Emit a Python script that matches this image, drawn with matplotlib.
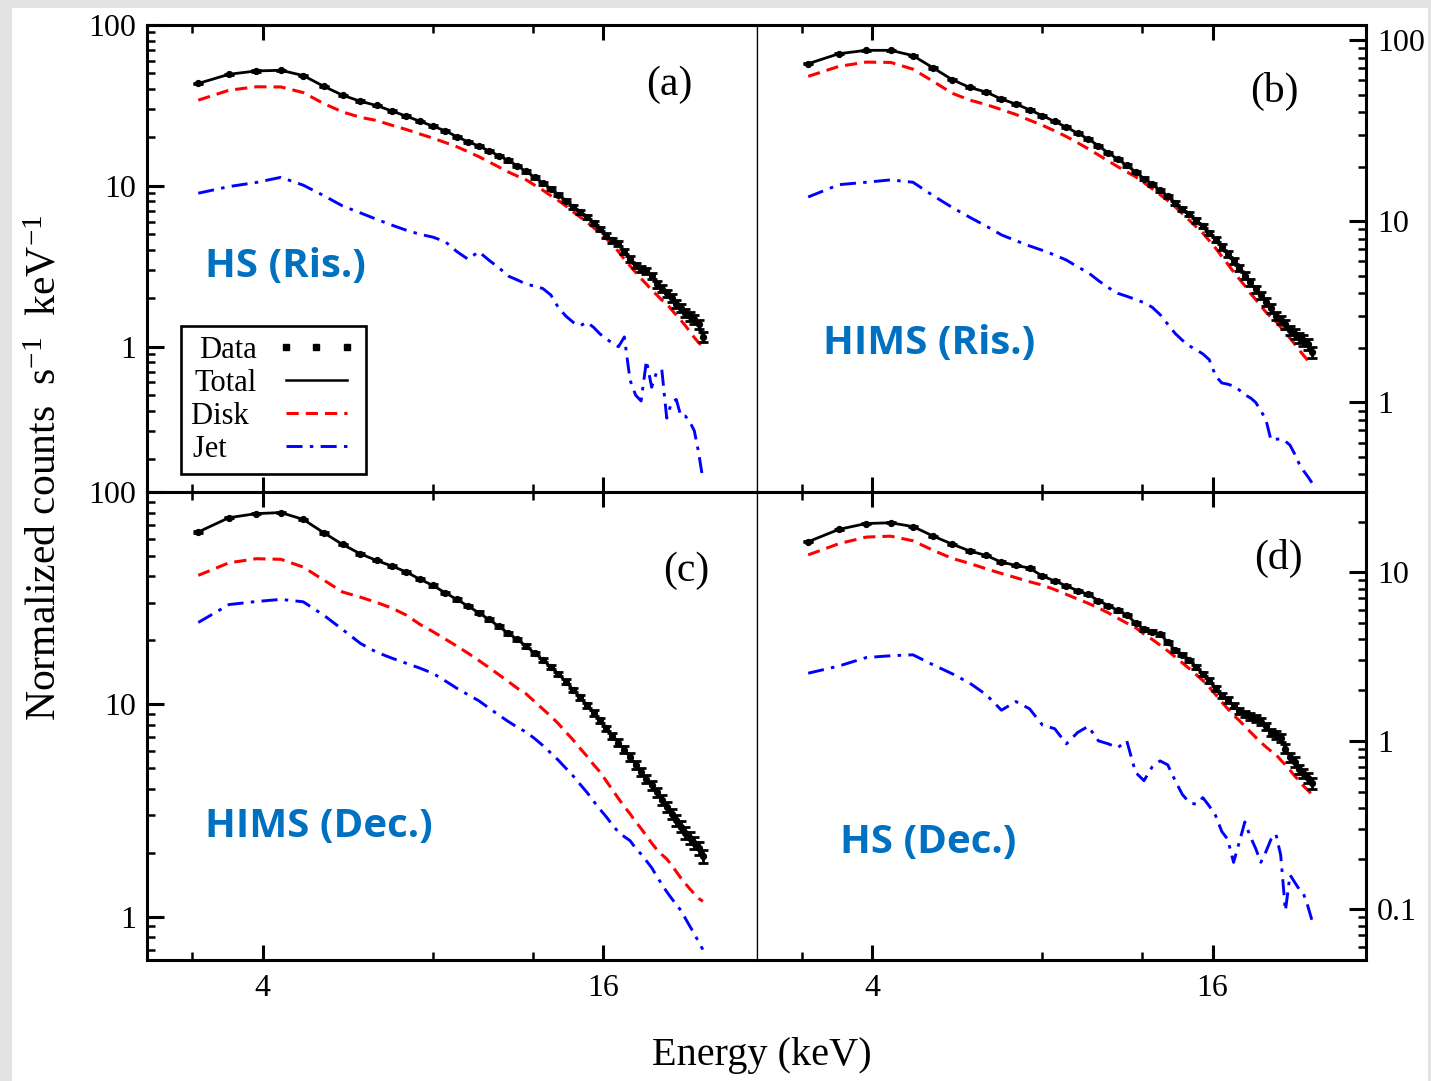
import matplotlib
matplotlib.use("Agg")
import matplotlib.pyplot as plt
from matplotlib.lines import Line2D
from matplotlib.patches import Rectangle
from matplotlib.ticker import FixedLocator, FuncFormatter, LogLocator, NullFormatter

plt.rcParams["font.family"] = ["Liberation Serif", "DejaVu Serif"]
plt.rcParams["mathtext.fontset"] = "custom"
plt.rcParams["mathtext.rm"] = "Liberation Serif"
plt.rcParams["mathtext.it"] = "Liberation Serif:italic"

# energy bin centres (keV)
energy = [3.08, 3.49, 3.90, 4.31, 4.72, 5.13, 5.54, 5.95, 6.36, 6.77,
          7.18, 7.59, 8.00, 8.41, 8.82, 9.23, 9.64, 10.05, 10.46, 10.87,
          11.28, 11.69, 12.10, 12.51, 12.92, 13.33, 13.74, 14.15, 14.56, 14.97,
          15.38, 15.79, 16.20, 16.61, 17.02, 17.43, 17.84, 18.25, 18.66, 19.07,
          19.48, 19.89, 20.30, 20.71, 21.12, 21.53, 21.94, 22.35, 22.76, 23.17,
          23.58, 23.99]

# fractional errors on the data points
err_frac = [0.008, 0.008, 0.008, 0.008, 0.008, 0.009, 0.009, 0.01, 0.01, 0.01,
            0.011, 0.011, 0.012, 0.012, 0.013, 0.013, 0.014, 0.015, 0.015, 0.016,
            0.017, 0.018, 0.019, 0.02, 0.021, 0.022, 0.023, 0.024, 0.026, 0.027,
            0.029, 0.03, 0.032, 0.034, 0.036, 0.038, 0.04, 0.042, 0.044, 0.046,
            0.048, 0.05, 0.052, 0.054, 0.056, 0.058, 0.06, 0.062, 0.064, 0.066,
            0.068, 0.07]

# (a) HS rising
a_data = [43.3, 49.4, 51.8, 52.3, 48.5, 41.6, 36.6, 33.6, 31.6, 29.2,
          27.1, 25.2, 23.5, 22.0, 20.2, 18.8, 17.7, 16.5, 15.4, 14.4,
          13.3, 12.3, 11.3, 10.4, 9.6, 8.8, 8.1, 7.4, 6.9, 6.4,
          5.9, 5.4, 4.9, 4.6, 4.4, 3.9, 3.5, 3.2, 3.05, 2.95,
          2.75, 2.45, 2.3, 2.15, 2.0, 1.85, 1.75, 1.62, 1.55, 1.48,
          1.38, 1.15]
a_disk = [34.1, 39.3, 41.3, 41.2, 38.0, 32.5, 28.8, 26.7, 25.5, 23.8,
          22.4, 21.0, 19.8, 18.6, 17.5, 16.3, 15.2, 14.1, 13.1, 12.2,
          11.5, 10.9, 10.1, 9.4, 8.7, 8.1, 7.5, 6.9, 6.4, 5.95,
          5.5, 5.1, 4.7, 4.3, 3.9, 3.5, 3.18, 2.9, 2.65, 2.45,
          2.25, 2.1, 1.95, 1.85, 1.7, 1.57, 1.46, 1.35, 1.24, 1.14,
          1.06, 1.0]
a_jet = [9.0, 9.9, 10.5, 11.3, 10.1, 8.7, 7.5, 6.8, 6.2, 5.7,
         5.3, 5.0, 4.8, 4.5, 3.9, 3.5, 3.9, 3.45, 3.1, 2.75,
         2.6, 2.45, 2.38, 2.3, 2.1, 1.75, 1.55, 1.42, 1.35, 1.42,
         1.32, 1.2, 1.12, 1.05, 1.0, 1.15, 0.62, 0.5, 0.46, 0.82,
         0.56, 0.7, 0.72, 0.36, 0.45, 0.47, 0.37, 0.37, 0.34, 0.30,
         0.22, 0.15]

# (b) HIMS rising
b_data = [74.0, 84.0, 87.7, 87.7, 82.0, 70.0, 60.4, 54.7, 51.6, 47.2,
          44.3, 41.2, 38.2, 35.5, 33.0, 30.6, 28.4, 26.1, 23.8, 22.0,
          20.3, 18.7, 17.2, 16.0, 14.8, 13.7, 12.6, 11.7, 10.9, 10.1,
          9.4, 8.6, 7.9, 7.2, 6.6, 6.0, 5.5, 5.0, 4.6, 4.2,
          3.9, 3.6, 3.3, 3.0, 2.85, 2.7, 2.5, 2.38, 2.28, 2.2,
          2.1, 1.9]
b_disk = [63.0, 71.5, 75.5, 75.2, 69.0, 59.0, 50.8, 46.6, 44.0, 41.3,
          38.8, 36.1, 33.8, 31.5, 29.3, 27.1, 25.1, 23.2, 21.5, 20.0,
          18.7, 17.6, 16.3, 15.1, 14.0, 13.0, 12.0, 11.0, 10.1, 9.3,
          8.6, 7.8, 7.1, 6.4, 5.8, 5.25, 4.8, 4.4, 4.0, 3.7,
          3.4, 3.15, 2.95, 2.8, 2.6, 2.42, 2.26, 2.1, 1.95, 1.82,
          1.71, 1.62]
b_jet = [13.6, 15.9, 16.4, 16.9, 16.4, 13.8, 11.9, 10.5, 9.4, 8.4,
         7.8, 7.3, 6.9, 6.5, 6.1, 5.6, 5.2, 4.7, 4.3, 4.0,
         3.85, 3.7, 3.55, 3.35, 3.05, 2.7, 2.4, 2.2, 2.05, 1.95,
         1.85, 1.72, 1.4, 1.28, 1.26, 1.23, 1.17, 1.1, 1.06, 1.0,
         0.9, 0.8, 0.62, 0.625, 0.63, 0.61, 0.58, 0.52, 0.46, 0.42,
         0.39, 0.36]

# (c) HIMS decay
c_data = [64.8, 75.7, 79.1, 80.0, 74.3, 64.3, 56.6, 51.2, 47.6, 44.8,
          42.0, 38.8, 36.3, 33.5, 31.2, 29.0, 27.0, 25.1, 23.3, 21.6,
          20.2, 18.8, 17.4, 16.2, 15.0, 13.9, 12.8, 11.7, 10.8, 9.9,
          9.1, 8.4, 7.7, 7.1, 6.6, 6.1, 5.65, 5.2, 4.8, 4.45,
          4.15, 3.85, 3.55, 3.3, 3.05, 2.85, 2.65, 2.48, 2.35, 2.22,
          2.1, 1.93]
c_disk = [40.5, 46.4, 48.5, 48.2, 44.3, 38.5, 33.8, 32.0, 30.2, 28.4,
          26.3, 23.8, 22.0, 20.3, 18.8, 17.4, 16.1, 14.9, 13.8, 12.8,
          11.9, 11.2, 10.3, 9.5, 8.8, 8.1, 7.4, 6.8, 6.2, 5.7,
          5.2, 4.8, 4.35, 3.95, 3.6, 3.3, 3.05, 2.8, 2.6, 2.4,
          2.22, 2.07, 1.96, 1.87, 1.75, 1.63, 1.52, 1.43, 1.35, 1.28,
          1.22, 1.18]
c_jet = [24.3, 29.5, 30.5, 31.2, 30.4, 26.3, 22.5, 19.4, 17.6, 16.5,
         15.6, 14.8, 14.0, 12.9, 11.9, 11.1, 10.4, 9.6, 8.9, 8.3,
         7.8, 7.4, 6.9, 6.4, 5.9, 5.45, 5.0, 4.6, 4.2, 3.85,
         3.5, 3.2, 2.95, 2.7, 2.5, 2.38, 2.28, 2.1, 1.97, 1.83,
         1.7, 1.55, 1.42, 1.31, 1.22, 1.14, 1.07, 0.98, 0.9, 0.83,
         0.76, 0.7]

# (d) HS decay
d_data = [15.2, 18.0, 19.5, 19.7, 18.7, 16.4, 14.7, 13.4, 12.6, 11.5,
          11.0, 10.6, 9.5, 8.9, 8.3, 7.8, 7.4, 6.8, 6.35, 5.95,
          5.6, 5.0, 4.6, 4.45, 4.3, 3.85, 3.45, 3.25, 3.0, 2.75,
          2.5, 2.28, 2.05, 1.85, 1.75, 1.62, 1.5, 1.45, 1.4, 1.36,
          1.3, 1.22, 1.12, 1.08, 1.04, 0.9, 0.8, 0.75, 0.68, 0.64,
          0.6, 0.56]
d_disk = [12.7, 14.8, 16.2, 16.4, 15.4, 13.5, 12.1, 11.3, 10.5, 9.85,
          9.3, 8.8, 8.4, 7.9, 7.4, 6.95, 6.55, 6.15, 5.75, 5.35,
          5.0, 4.7, 4.3, 4.0, 3.7, 3.42, 3.15, 2.9, 2.68, 2.47,
          2.28, 2.08, 1.88, 1.7, 1.55, 1.42, 1.32, 1.22, 1.13, 1.05,
          0.98, 0.92, 0.87, 0.83, 0.77, 0.72, 0.67, 0.62, 0.58, 0.54,
          0.51, 0.48]
d_jet = [2.52, 2.78, 3.12, 3.2, 3.24, 2.82, 2.5, 2.2, 1.88, 1.52,
         1.71, 1.55, 1.24, 1.18, 0.96, 1.12, 1.22, 1.0, 0.96, 0.91,
         1.0, 0.65, 0.58, 0.70, 0.76, 0.72, 0.58, 0.48, 0.43, 0.42,
         0.46, 0.41, 0.36, 0.29, 0.26, 0.19, 0.25, 0.33, 0.27, 0.23,
         0.19, 0.22, 0.26, 0.28, 0.21, 0.098, 0.16, 0.145, 0.132, 0.124,
         0.105, 0.086]

panels = [
    ("(a)", "HS (Ris.)", a_data, a_disk, a_jet, (0.125, 100)),
    ("(b)", "HIMS (Ris.)", b_data, b_disk, b_jet, (0.32, 121)),
    ("(c)", "HIMS (Dec.)", c_data, c_disk, c_jet, (0.625, 100)),
    ("(d)", "HS (Dec.)", d_data, d_disk, d_jet, (0.05, 30)),
]
letter_pos = [(0.857, 0.872), (0.849, 0.857), (0.884, 0.831), (0.857, 0.857)]
state_pos = [(0.095, 0.482), (0.108, 0.319), (0.095, 0.286), (0.136, 0.252)]

W, H = 1431, 1081
fig = plt.figure(figsize=(W / 100, H / 100), dpi=100, facecolor="#e3e3e3")
fig.patches.append(Rectangle((12 / W, 0), (1428 - 12) / W, 1 - 8 / H,
                             transform=fig.transFigure, facecolor="white",
                             edgecolor="none", zorder=-10))

xl, xr, xm = 147 / W, 1366 / W, 757 / W
yt, yb, ym = 1 - 25 / H, 1 - 960 / H, 1 - 492 / H
rects = [(xl, ym, xm - xl, yt - ym), (xm, ym, xr - xm, yt - ym),
         (xl, yb, xm - xl, ym - yb), (xm, yb, xr - xm, ym - yb)]

disk_ls = (0, (4, 2.3))
jet_ls = (0, (5.5, 2.5, 1.2, 2.5))
blue_txt = "#0070c0"

for i, (letter, state, data, disk, jet, ylim) in enumerate(panels):
    ax = fig.add_axes(rects[i])
    ax.set_xscale("log")
    ax.set_yscale("log")
    ax.set_xlim(2.5, 29.9)
    ax.set_ylim(*ylim)

    yerr = [v * f for v, f in zip(data, err_frac)]
    ax.errorbar(energy, data, yerr=yerr, fmt="o", ms=4.2, color="black",
                elinewidth=2.0, capsize=3.5, capthick=2.0, zorder=4)
    ax.plot(energy, data, color="black", lw=2.0, zorder=5)
    ax.plot(energy, disk, color="red", lw=2.2, ls=disk_ls, zorder=3)
    ax.plot(energy, jet, color="blue", lw=2.1, ls=jet_ls, zorder=3)

    ax.text(*letter_pos[i], letter, transform=ax.transAxes, fontsize=30,
            ha="center", va="center")
    ax.text(*state_pos[i], state, transform=ax.transAxes, fontsize=29,
            family="Open Sans", weight="bold", color=blue_txt,
            ha="left", va="center")

    # ticks
    ax.xaxis.set_major_locator(FixedLocator([4, 16]))
    ax.xaxis.set_minor_locator(FixedLocator([3, 8, 12]))
    ax.xaxis.set_major_formatter(FuncFormatter(lambda v, p: f"{v:g}"))
    ax.xaxis.set_minor_formatter(NullFormatter())
    ax.yaxis.set_major_locator(LogLocator(base=10))
    ax.yaxis.set_minor_locator(LogLocator(base=10, subs=range(2, 10)))
    ax.yaxis.set_major_formatter(FuncFormatter(lambda v, p: f"{v:g}"))
    ax.yaxis.set_minor_formatter(NullFormatter())

    right = i % 2 == 1
    ax.tick_params(axis="both", which="both", direction="in", labelsize=23)
    ax.tick_params(axis="y", which="major", length=12, width=2.2, pad=8)
    ax.tick_params(axis="y", which="minor", length=6, width=1.8)
    ax.tick_params(axis="x", which="major", length=11, width=2.2, pad=10)
    ax.tick_params(axis="x", which="minor", length=6, width=1.8)
    ax.tick_params(axis="x", which="both", top=True, bottom=True,
                   labelbottom=i >= 2)
    ax.tick_params(axis="y", which="both", left=not right, right=right,
                   labelleft=not right, labelright=right)

    for s in ax.spines.values():
        s.set_linewidth(2.2)
    ax.spines["left" if right else "right"].set_linewidth(0.9)

    if i == 0:
        handles = [
            Line2D([], [], ls="none", marker="s", ms=4.5, color="black"),
            Line2D([], [], color="black", lw=1.8),
            Line2D([], [], color="red", lw=2.2, ls=disk_ls),
            Line2D([], [], color="blue", lw=2.1, ls=jet_ls),
        ]
        nb = "\u00a0"
        labels = ["Data", "Total", "Disk" + nb, "Jet" + nb * 4]
        leg = ax.legend(handles, labels,
                        loc="upper left", bbox_to_anchor=(0.0557, 0.356),
                        borderaxespad=0, fontsize=22, numpoints=3,
                        markerfirst=False, handlelength=2.6, handletextpad=0.65,
                        labelspacing=0.13, borderpad=0.34, fancybox=False,
                        framealpha=1, edgecolor="black")
        leg.get_frame().set_linewidth(1.9)

fig.text(762 / W, 1 - 1055 / H, "Energy (keV)", fontsize=29,
         ha="center", va="center")
fig.text(45 / W, 1 - 468 / H, r"Normalized counts  s$^{-1}$  keV$^{-1}$",
         fontsize=30, rotation=90, ha="center", va="center")

fig.savefig("out.png", dpi=100, facecolor=fig.get_facecolor())
